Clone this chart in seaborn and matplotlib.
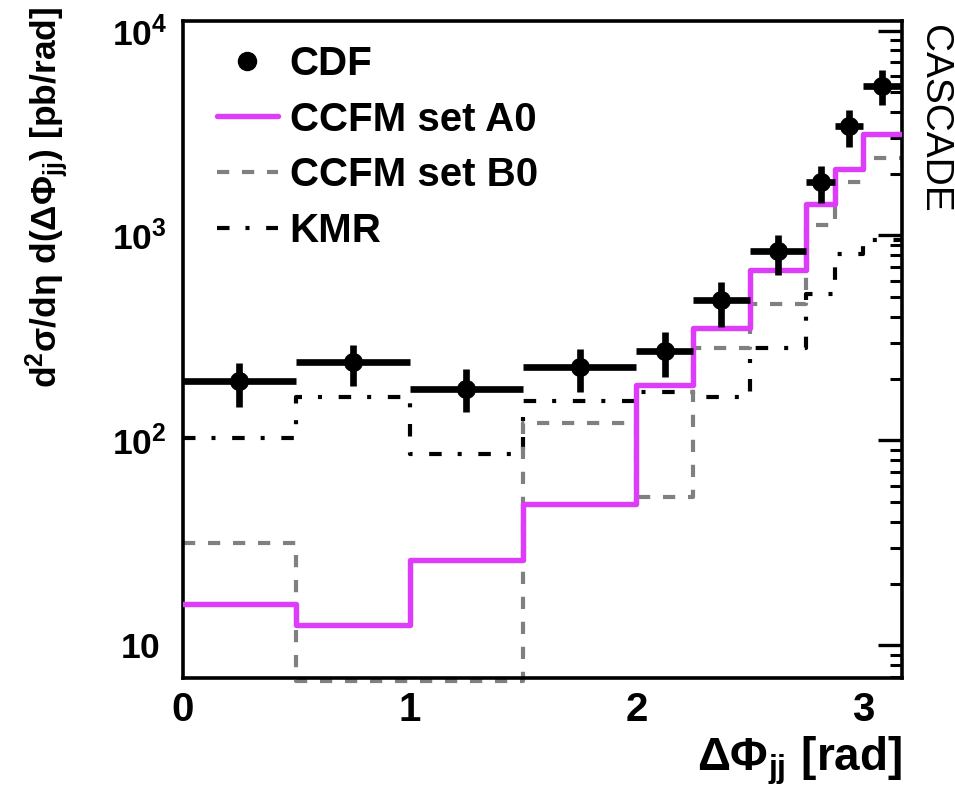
import numpy as np
import pandas as pd
import matplotlib
matplotlib.use("Agg")
import matplotlib.pyplot as plt
import seaborn as sns
from matplotlib.lines import Line2D
from matplotlib.ticker import FixedLocator, NullFormatter

# ---------------- data ----------------
bin_edges = [0.0, 0.5, 1.0, 1.5, 2.0, 2.25, 2.5, 2.75, 2.875, 3.0, 3.17]
cdf_x = [0.25, 0.75, 1.25, 1.75, 2.125, 2.375, 2.625, 2.8125, 2.9375, 3.085]
cdf_y = [194, 240, 178, 228, 274, 482, 836, 1817, 3437, 5387]
cdf_hi = [238, 291, 223, 280, 338, 590, 1009, 2192, 4082, 6449]
cdf_lo = [145, 185, 137, 173, 204, 356, 644, 1441, 2705, 4352]
ccfm_a0 = [15.9, 12.6, 26.1, 49.0, 187, 353, 681, 1430, 2112, 3142]
ccfm_b0 = [31.6, 6.7, 6.7, 121.5, 53.0, 284, 463, 1129, 1817, 2390]
kmr = [102.6, 162, 85.7, 156, 173, 162, 282, 520, 815, 955]
x_ticks = [0, 1, 2, 3]
y_ticks = [10, 100, 1000, 10000]
y_ticklabels = [r"$\mathbf{10}$", r"$\mathbf{10^{2}}$", r"$\mathbf{10^{3}}$", r"$\mathbf{10^{4}}$"]
legend_labels = ["CDF", "CCFM set A0", "CCFM set B0", "KMR"]

MAGENTA = "#DD3DF8"
GRAY = "#808080"

# ---------------- style ----------------
sns.set_style("white")
plt.rcParams["font.family"] = ["Liberation Sans", "DejaVu Sans"]
plt.rcParams["font.weight"] = "bold"
plt.rcParams["text.color"] = "black"
plt.rcParams["axes.labelcolor"] = "black"
plt.rcParams["xtick.color"] = "black"
plt.rcParams["ytick.color"] = "black"
plt.rcParams["mathtext.fontset"] = "custom"
plt.rcParams["mathtext.rm"] = "Liberation Sans"
plt.rcParams["mathtext.bf"] = "Liberation Sans:bold"
plt.rcParams["mathtext.it"] = "Liberation Sans:italic"
plt.rcParams["mathtext.sf"] = "Liberation Sans"
plt.rcParams["lines.scale_dashes"] = False
plt.rcParams["axes.linewidth"] = 2.6

fig = plt.figure(figsize=(9.55, 7.95), dpi=100)
ax = fig.add_axes([0.1913, 0.1468, 0.7529, 0.8274])
ax.set_yscale("log")

def steps(vals):
    return pd.DataFrame({"x": bin_edges, "y": list(vals) + [vals[-1]]})

# KMR (dash-dot)
sns.lineplot(data=steps(kmr), x="x", y="y", ax=ax, color="black", lw=3.0,
             drawstyle="steps-post", estimator=None, sort=False, zorder=2)
kmr_dashes = [9.0, 11.5, 2.9, 12.0]
ax.lines[-1].set_dashes(kmr_dashes)
ax.lines[-1].set_dash_capstyle("butt")

# CCFM set B0 (gray dashed)
sns.lineplot(data=steps(ccfm_b0), x="x", y="y", ax=ax, color=GRAY, lw=3.0,
             drawstyle="steps-post", estimator=None, sort=False, zorder=2)
b0_dashes = [8.8, 9.2]
ax.lines[-1].set_dashes(b0_dashes)
ax.lines[-1].set_dash_capstyle("butt")
ax.lines[-1].set_clip_on(False)

# CCFM set A0 (magenta solid)
sns.lineplot(data=steps(ccfm_a0), x="x", y="y", ax=ax, color=MAGENTA, lw=3.9,
             drawstyle="steps-post", estimator=None, sort=False, zorder=3)

# CDF data with error bars
half_w = np.diff(bin_edges) / 2.0
yerr = [np.array(cdf_y) - np.array(cdf_lo), np.array(cdf_hi) - np.array(cdf_y)]
ax.errorbar(cdf_x, cdf_y, yerr=yerr, xerr=half_w, fmt="none", ecolor="black",
            elinewidth=4.8, capsize=0, zorder=4)
sns.scatterplot(x=cdf_x, y=cdf_y, ax=ax, color="black", s=190, edgecolor="black",
                linewidth=0, zorder=5, legend=False)

# ---------------- axes ----------------
ax.set_xlim(0, 3.17)
ax.set_ylim(6.9, 11200)
ax.set_xticks(x_ticks)
ax.set_xticklabels([str(t) for t in x_ticks], fontsize=29, fontweight="bold")
ax.xaxis.set_minor_locator(FixedLocator([v for v in np.arange(0, 3.21, 0.2)
                                         if abs(v - round(v)) > 1e-6]))
ax.set_yticks(y_ticks, y_ticklabels, fontsize=25.5, ha="center")
minor_y = [m * 10 ** e for e in range(0, 5) for m in range(2, 10)]
ax.yaxis.set_minor_locator(FixedLocator(minor_y))
ax.yaxis.set_minor_formatter(NullFormatter())
ax.tick_params(axis="x", which="major", direction="in", length=13, width=2.4, pad=9, top=False)
ax.tick_params(axis="x", which="minor", direction="in", length=6.5, width=2.2, top=False)
ax.tick_params(axis="y", which="major", direction="in", length=17, width=2.4, pad=31, right=True)
ax.tick_params(axis="y", which="minor", direction="in", length=8.5, width=2.2, right=True)
for s in ax.spines.values():
    s.set_visible(True)
    s.set_color("black")
    s.set_linewidth(2.6)

ax.set_xlabel(r"$\mathrm{\Delta\Phi}_{\mathbf{jj}}\ \mathbf{[rad]}$", fontsize=33,
              loc="right")
ax.xaxis.set_label_coords(1.0, -0.085)
ax.set_ylabel(r"$\mathbf{d^{2}}\mathrm{\sigma}\mathbf{/d}\mathrm{\eta}\ \mathbf{d(}"
              r"\mathrm{\Delta\Phi}_{\mathbf{jj}}\mathbf{)\ [pb/rad]}$",
              fontsize=25.5, loc="top")
ax.yaxis.set_label_coords(-0.155, 1.0205)

# ---------------- legend ----------------
handles = [
    Line2D([], [], marker="o", color="black", ls="none", markersize=13),
    Line2D([], [], color=MAGENTA, lw=3.9),
    Line2D([], [], color=GRAY, lw=3.0, dashes=b0_dashes, dash_capstyle="butt"),
    Line2D([], [], color="black", lw=3.0, dashes=kmr_dashes, dash_capstyle="butt"),
]
leg = ax.legend(handles, legend_labels, loc="upper left", bbox_to_anchor=(0.048, 0.963),
                frameon=False, handlelength=1.5, handletextpad=0.3,
                labelspacing=0.44, borderpad=0, borderaxespad=0,
                prop={"weight": "bold", "size": 29})

fig.text(934 / 955, 1 - 25 / 795, "CASCADE", rotation=-90, ha="center", va="top",
         fontsize=28, fontweight="normal", family="Liberation Sans")

fig.savefig("out.png", dpi=100)
